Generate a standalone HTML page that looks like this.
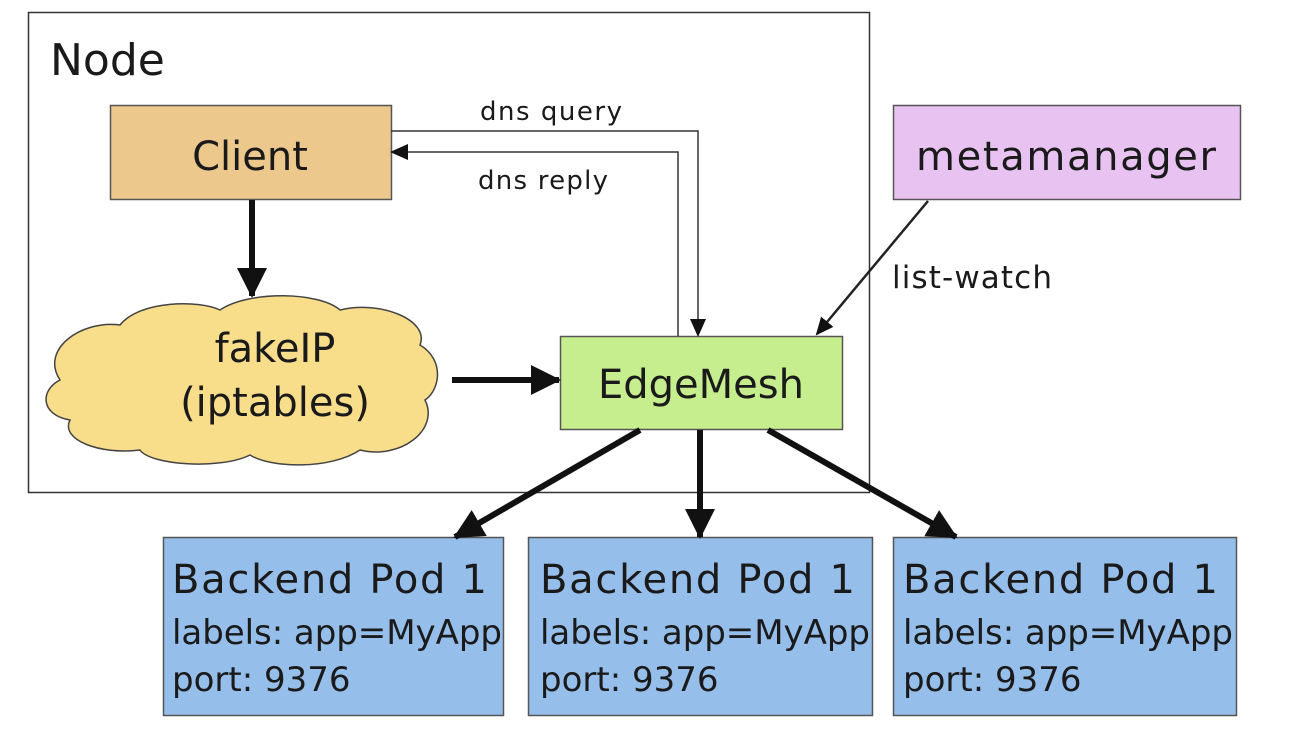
<!DOCTYPE html>
<html><head><meta charset="utf-8"><style>
html,body{margin:0;padding:0;background:#fff;}
svg{display:block;}
text{font-family:"DejaVu Sans","Liberation Sans",sans-serif;fill:#1a1a1a;}
</style></head><body>
<svg width="1300" height="730" viewBox="0 0 1300 730" xmlns="http://www.w3.org/2000/svg">
<defs>
<marker id="ahs" markerWidth="18" markerHeight="16" refX="16" refY="8" orient="auto" markerUnits="userSpaceOnUse"><path d="M0,0 L18,8 L0,16 z" fill="#111"/></marker>
<marker id="ahb" markerWidth="30" markerHeight="30" refX="28" refY="15" orient="auto" markerUnits="userSpaceOnUse"><path d="M0,0 L30,15 L0,30 z" fill="#111"/></marker>
</defs>
<rect x="28.5" y="12.5" width="841" height="480" fill="none" stroke="#333" stroke-width="1.5"/>
<text x="50" y="75" font-size="44">Node</text>

<rect x="110.5" y="105.5" width="281" height="94" fill="#EDC88C" stroke="#555" stroke-width="1.5"/>
<text x="250" y="170" font-size="40" text-anchor="middle">Client</text>

<rect x="893.5" y="105.5" width="347" height="94" fill="#E8C3F2" stroke="#555" stroke-width="1.5"/>
<text x="1066" y="170" font-size="40" text-anchor="middle" textLength="300">metamanager</text>

<path d="M60,380 C40,350 80,320 120,325 C140,300 200,300 220,310 C250,290 320,292 340,310 C380,300 430,320 420,345 C445,360 440,390 425,400 C440,430 400,460 360,450 C330,470 270,468 250,455 C220,470 150,465 140,450 C100,455 60,440 70,420 C40,415 40,390 60,380 Z" fill="#F8DD8A" stroke="#444" stroke-width="1.5"/>
<text x="275" y="362" font-size="40" text-anchor="middle">fakeIP</text>
<text x="275" y="416" font-size="40" text-anchor="middle">(iptables)</text>

<rect x="560.5" y="336.5" width="282" height="93" fill="#C6EE8E" stroke="#555" stroke-width="1.5"/>
<text x="701" y="398" font-size="40" text-anchor="middle">EdgeMesh</text>

<g font-size="34">
<rect x="163.5" y="537.5" width="340" height="178" fill="#95BEEB" stroke="#555" stroke-width="1.5"/>
<text x="172" y="593" font-size="40" textLength="315">Backend Pod 1</text>
<text x="172" y="644" textLength="330">labels: app=MyApp</text>
<text x="172" y="691">port: 9376</text>
<rect x="528.5" y="537.5" width="344" height="178" fill="#95BEEB" stroke="#555" stroke-width="1.5"/>
<text x="540" y="593" font-size="40" textLength="315">Backend Pod 1</text>
<text x="540" y="644" textLength="330">labels: app=MyApp</text>
<text x="540" y="691">port: 9376</text>
<rect x="893.5" y="537.5" width="343" height="178" fill="#95BEEB" stroke="#555" stroke-width="1.5"/>
<text x="903" y="593" font-size="40" textLength="315">Backend Pod 1</text>
<text x="903" y="644" textLength="330">labels: app=MyApp</text>
<text x="903" y="691">port: 9376</text>
</g>

<polyline points="391,131 698,131 698,335" fill="none" stroke="#333" stroke-width="1.5" marker-end="url(#ahs)"/>
<polyline points="678,336 678,152 392,152" fill="none" stroke="#333" stroke-width="1.5" marker-end="url(#ahs)"/>
<text x="480" y="120" font-size="26" textLength="142">dns query</text>
<text x="478" y="189" font-size="26" textLength="130">dns reply</text>

<line x1="928" y1="201" x2="817" y2="334" stroke="#222" stroke-width="2.5" marker-end="url(#ahs)"/>
<text x="892" y="288" font-size="31" textLength="160">list-watch</text>

<line x1="252" y1="200" x2="252" y2="296" stroke="#111" stroke-width="6" marker-end="url(#ahb)"/>
<line x1="452" y1="380" x2="559" y2="380" stroke="#111" stroke-width="6" marker-end="url(#ahb)"/>
<line x1="640" y1="430" x2="455" y2="537" stroke="#111" stroke-width="6" marker-end="url(#ahb)"/>
<line x1="700" y1="430" x2="700" y2="537" stroke="#111" stroke-width="6" marker-end="url(#ahb)"/>
<line x1="768" y1="430" x2="956" y2="537" stroke="#111" stroke-width="6" marker-end="url(#ahb)"/>
</svg>
</body></html>
